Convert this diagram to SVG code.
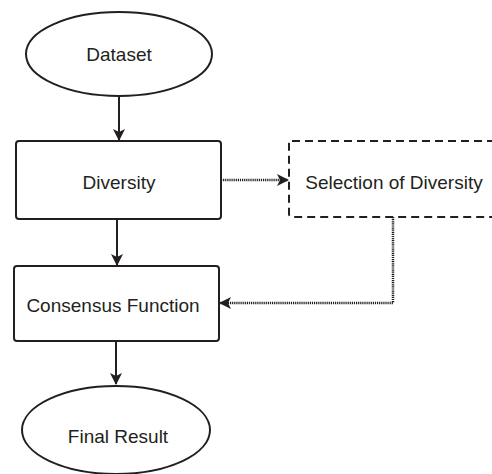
<svg xmlns="http://www.w3.org/2000/svg" width="492" height="474" viewBox="0 0 492 474">
<defs>
<style>
.n{fill:#fff;stroke:#231f20;stroke-width:2}
.d{fill:#fff;stroke:#231f20;stroke-width:2;stroke-dasharray:8 5}
.t{font-family:"Liberation Sans",Arial,sans-serif;font-size:19px;fill:#231f20;text-anchor:middle;dominant-baseline:central}
.c{fill:none;stroke:#231f20;stroke-width:2}
.dot{fill:none;stroke:#231f20;stroke-width:2.5;stroke-dasharray:1.2 0.9}
</style>
<marker id="ah" viewBox="0 0 12 12" refX="11" refY="6" markerWidth="12" markerHeight="12" markerUnits="userSpaceOnUse" orient="auto">
<path d="M0,0 L12,6 L0,12 L3,6 Z" fill="#231f20"/>
</marker>
</defs>
<rect width="492" height="474" fill="#fff"/>
<g id="connectors">
<line class="c" x1="119" y1="96" x2="119" y2="140" marker-end="url(#ah)"/>
<line class="c" x1="117" y1="219" x2="117" y2="265" marker-end="url(#ah)"/>
<line class="c" x1="116" y1="341" x2="116" y2="384" marker-end="url(#ah)"/>
<line class="dot" x1="221" y1="180" x2="288" y2="180" marker-end="url(#ah)"/>
<polyline class="dot" points="393,217 393,303 220,303" marker-end="url(#ah)"/>
</g>
<g id="dataset">
<ellipse class="n" cx="119" cy="54" rx="93" ry="42"/>
<text class="t" x="119" y="54">Dataset</text>
</g>
<g id="diversity">
<rect class="n" x="16" y="141" width="205" height="78" rx="3"/>
<text class="t" x="119" y="182">Diversity</text>
</g>
<g id="selection">
<rect class="d" x="289" y="141" width="212" height="76" rx="3"/>
<text class="t" x="394" y="182">Selection of Diversity</text>
</g>
<g id="consensus">
<rect class="n" x="14" y="266" width="205" height="75" rx="3"/>
<text class="t" x="113" y="305">Consensus Function</text>
</g>
<g id="final">
<ellipse class="n" cx="116" cy="430" rx="94" ry="44"/>
<text class="t" x="118" y="436">Final Result</text>
</g>
</svg>
